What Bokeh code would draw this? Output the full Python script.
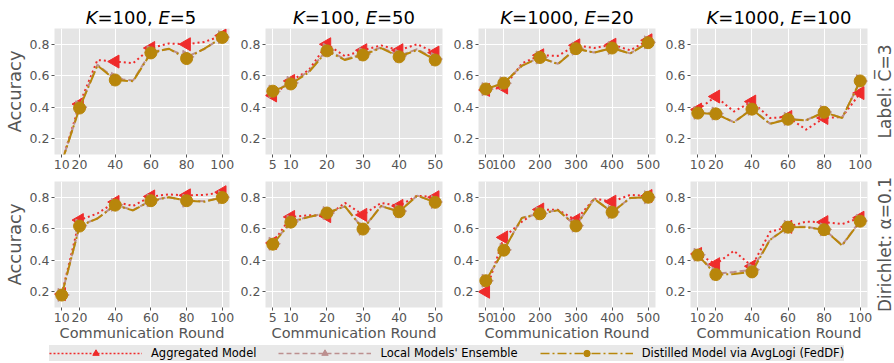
import math
from bokeh.plotting import figure
from bokeh.models import Range1d, FixedTicker, Legend, LegendItem
from bokeh.core.properties import value
from bokeh.layouts import row, column
from bokeh.embed import file_html
from bokeh.resources import INLINE

FONT = "DejaVu Sans"

# ---------------- data ----------------
rounds_k100_e5 = [10, 20, 30, 40, 50, 60, 70, 80, 90, 100]
rounds_k100_e50 = [5, 10, 15, 20, 25, 30, 35, 40, 45, 50]
rounds_k1000_e20 = [50, 100, 150, 200, 250, 300, 350, 400, 450, 500]
rounds_k1000_e100 = [10, 20, 30, 40, 50, 60, 70, 80, 90, 100]

ticks_k100_e5 = [10, 20, 40, 60, 80, 100]
ticks_k100_e50 = [5, 10, 20, 30, 40, 50]
ticks_k1000_e20 = [50, 100, 200, 300, 400, 500]
ticks_k1000_e100 = [10, 20, 40, 60, 80, 100]

y_ticks = [0.2, 0.4, 0.6, 0.8]

# Row 1: Label, C-bar = 3
agg_lab_k100_e5 = [0.05, 0.42, 0.70, 0.69, 0.68, 0.776, 0.805, 0.80, 0.815, 0.855]
ens_lab_k100_e5 = [0.05, 0.40, 0.67, 0.58, 0.57, 0.75, 0.77, 0.72, 0.77, 0.845]
dist_lab_k100_e5 = [0.05, 0.395, 0.665, 0.573, 0.565, 0.745, 0.772, 0.709, 0.772, 0.843]

agg_lab_k100_e50 = [0.475, 0.567, 0.636, 0.80, 0.724, 0.762, 0.793, 0.762, 0.80, 0.747]
ens_lab_k100_e50 = [0.50, 0.555, 0.628, 0.765, 0.705, 0.738, 0.78, 0.727, 0.768, 0.706]
dist_lab_k100_e50 = [0.502, 0.548, 0.622, 0.758, 0.70, 0.732, 0.776, 0.72, 0.764, 0.70]

agg_lab_k1000_e20 = [0.51, 0.525, 0.678, 0.73, 0.726, 0.793, 0.776, 0.797, 0.762, 0.825]
ens_lab_k1000_e20 = [0.515, 0.552, 0.665, 0.716, 0.676, 0.772, 0.748, 0.776, 0.742, 0.812]
dist_lab_k1000_e20 = [0.516, 0.553, 0.663, 0.716, 0.674, 0.772, 0.747, 0.776, 0.741, 0.81]

agg_lab_k1000_e100 = [0.385, 0.468, 0.373, 0.436, 0.332, 0.338, 0.258, 0.332, 0.338, 0.49]
ens_lab_k1000_e100 = [0.365, 0.36, 0.305, 0.39, 0.296, 0.326, 0.318, 0.37, 0.332, 0.566]
dist_lab_k1000_e100 = [0.363, 0.358, 0.305, 0.388, 0.294, 0.324, 0.317, 0.368, 0.332, 0.567]

# Row 2: Dirichlet, alpha = 0.1
agg_dir_k100_e5 = [0.185, 0.655, 0.697, 0.77, 0.745, 0.805, 0.818, 0.812, 0.815, 0.832]
ens_dir_k100_e5 = [0.18, 0.62, 0.665, 0.752, 0.718, 0.78, 0.80, 0.778, 0.774, 0.80]
dist_dir_k100_e5 = [0.179, 0.617, 0.665, 0.75, 0.716, 0.778, 0.80, 0.778, 0.772, 0.798]

agg_dir_k100_e50 = [0.51, 0.675, 0.686, 0.68, 0.764, 0.688, 0.764, 0.745, 0.81, 0.80]
ens_dir_k100_e50 = [0.505, 0.645, 0.676, 0.70, 0.742, 0.60, 0.744, 0.712, 0.81, 0.77]
dist_dir_k100_e50 = [0.502, 0.642, 0.675, 0.70, 0.742, 0.598, 0.744, 0.708, 0.81, 0.768]

agg_dir_k1000_e20 = [0.20, 0.545, 0.645, 0.722, 0.72, 0.655, 0.791, 0.772, 0.815, 0.808]
ens_dir_k1000_e20 = [0.27, 0.466, 0.669, 0.697, 0.718, 0.62, 0.79, 0.706, 0.795, 0.80]
dist_dir_k1000_e20 = [0.27, 0.464, 0.669, 0.695, 0.717, 0.618, 0.79, 0.705, 0.795, 0.80]

agg_dir_k1000_e100 = [0.44, 0.375, 0.46, 0.362, 0.58, 0.612, 0.645, 0.642, 0.63, 0.67]
ens_dir_k1000_e100 = [0.435, 0.315, 0.325, 0.34, 0.53, 0.612, 0.612, 0.596, 0.497, 0.65]
dist_dir_k1000_e100 = [0.433, 0.309, 0.312, 0.326, 0.529, 0.61, 0.61, 0.594, 0.494, 0.648]

series_names = ["Aggregated Model", "Local Models' Ensemble", "Distilled Model via AvgLogi (FedDF)"]
k_values = ["100", "100", "1000", "1000"]
e_values = ["5", "50", "20", "100"]
row_labels = ["Label: C\u0305=3", "Dirichlet: \u03b1=0.1"]

# ---------------- style / layout constants ----------------
RED = "#ef2b2b"
ROSY = "#bc8f8f"
GOLD = "#b8860b"
GRAY = "#555555"
PANEL_BG = "#e5e5e5"

W_TOTAL = 894
FRAME_W = 177
FRAME_H = 126
LEFT = [52, 30, 29, 28]
RIGHT = [6, 7, 7, 5]
STRIP_W = W_TOTAL - sum(LEFT) - sum(RIGHT) - 4 * FRAME_W
TITLE_H = 28
TOP = [0, 7]
BOTTOM = [20, 36]
LEG_H = 363 - TITLE_H - sum(TOP) - sum(BOTTOM) - 2 * FRAME_H

# DejaVu Sans advance widths (em)
CW = {"0": 0.636, "1": 0.636, "2": 0.636, "3": 0.636, "4": 0.636, "5": 0.636,
      "6": 0.636, "7": 0.636, "8": 0.636, "9": 0.636, "=": 0.838, ",": 0.318,
      " ": 0.318, "K": 0.656, "E": 0.632}


def tw(s, size):
    return sum(CW.get(c, 0.6) for c in s) * size


def blank_strip(width, height, xr, yr):
    f = figure(width=width, height=height, x_range=Range1d(*xr), y_range=Range1d(*yr),
               toolbar_location=None, output_backend="svg", min_border=0, title=None,
               x_axis_type=None, y_axis_type=None, outline_line_color=None)
    f.background_fill_color = "white"
    f.border_fill_color = "white"
    f.grid.visible = False
    return f


# ---------------- title strip ----------------
frame_centers = []
acc = 0
for c in range(4):
    frame_centers.append(acc + LEFT[c] + FRAME_W / 2)
    acc += LEFT[c] + FRAME_W + RIGHT[c]

title_strip = blank_strip(W_TOTAL, TITLE_H, (0, W_TOTAL), (0, TITLE_H))
TSIZE = 18
TITLE_BASE = 11
it_x, it_t, no_x, no_t = [], [], [], []
for c in range(4):
    pieces = [("K", True), ("=%s, " % k_values[c], False), ("E", True), ("=%s" % e_values[c], False)]
    total = sum(tw(t, TSIZE) for t, _ in pieces)
    x = frame_centers[c] - total / 2
    for t, ital in pieces:
        (it_x if ital else no_x).append(x)
        (it_t if ital else no_t).append(t.rstrip())
        x += tw(t, TSIZE)
title_strip.text(x=it_x, y=[TITLE_BASE] * len(it_x), text=it_t,
                 text_font=value(FONT), text_font_size="18px", text_font_style="italic",
                 text_color="black", text_align="left", text_baseline="alphabetic")
title_strip.text(x=no_x, y=[TITLE_BASE] * len(no_x), text=no_t,
                 text_font=value(FONT), text_font_size="18px", text_font_style="normal",
                 text_color="black", text_align="left", text_baseline="alphabetic")


def make_panel(rounds, ticks, agg, ens, dist, col, r):
    span = rounds[-1] - rounds[0]
    pad = span * 0.045
    p = figure(width=LEFT[col] + FRAME_W + RIGHT[col], height=TOP[r] + FRAME_H + BOTTOM[r],
               x_range=Range1d(rounds[0] - pad, rounds[-1] + pad),
               y_range=Range1d(0.1, 0.9), title=None,
               toolbar_location=None, output_backend="svg",
               min_border_left=LEFT[col], min_border_right=RIGHT[col],
               min_border_top=TOP[r], min_border_bottom=BOTTOM[r])
    p.background_fill_color = PANEL_BG
    p.border_fill_color = "white"
    p.outline_line_color = None
    p.xaxis.ticker = FixedTicker(ticks=ticks)
    p.yaxis.ticker = FixedTicker(ticks=y_ticks)
    p.xgrid.ticker = FixedTicker(ticks=ticks)
    p.ygrid.ticker = FixedTicker(ticks=y_ticks)
    p.grid.grid_line_color = "white"
    p.grid.grid_line_width = 1
    p.axis.axis_line_color = None
    p.axis.major_tick_line_color = GRAY
    p.axis.minor_tick_line_color = None
    p.axis.major_tick_in = 0
    p.axis.major_tick_out = 3
    p.axis.major_label_standoff = 2
    p.axis.major_label_text_font = FONT
    p.axis.major_label_text_font_size = "12.5px"
    p.axis.major_label_text_color = GRAY
    p.axis.axis_label_text_font = FONT
    p.axis.axis_label_text_font_style = "normal"
    p.axis.axis_label_text_color = GRAY
    if col == 0:
        p.yaxis.axis_label = "Accuracy"
        p.yaxis.axis_label_text_font_size = "18px"
        p.yaxis.axis_label_standoff = 2
    if r == 1:
        p.xaxis.axis_label = "Communication Round"
        p.xaxis.axis_label_text_font_size = "14.5px"
        p.xaxis.axis_label_standoff = 0

    idx = [i for i, x in enumerate(rounds) if x in ticks]
    mx = [rounds[i] for i in idx]

    p.line(rounds, agg, line_color=RED, line_width=2, line_dash="2 3")
    p.scatter(mx, [agg[i] for i in idx], marker="triangle", angle=math.pi / 2,
              size=13, fill_color=RED, line_color=RED)
    p.line(rounds, ens, line_color=ROSY, line_width=2, line_dash="7 3")
    p.scatter(mx, [ens[i] for i in idx], marker="triangle", angle=-math.pi / 2,
              size=13, fill_color=ROSY, line_color=ROSY)
    p.line(rounds, dist, line_color=GOLD, line_width=2, line_dash="13 3 2 3")
    p.scatter(mx, [dist[i] for i in idx], marker="circle", size=12,
              fill_color=GOLD, line_color=GOLD)
    return p


def row_strip(r, label):
    s = figure(width=STRIP_W, height=TOP[r] + FRAME_H + BOTTOM[r],
               x_range=Range1d(0, 1), y_range=Range1d(0, 1),
               toolbar_location=None, output_backend="svg", title=None, x_axis_type=None,
               min_border_left=0, min_border_right=0,
               min_border_top=TOP[r], min_border_bottom=BOTTOM[r],
               outline_line_color=None)
    s.background_fill_color = "white"
    s.border_fill_color = "white"
    s.grid.visible = False
    s.yaxis.ticker = FixedTicker(ticks=[])
    s.yaxis.axis_line_color = None
    s.yaxis.major_tick_out = 0
    s.yaxis.minor_tick_out = 0
    s.yaxis.major_label_standoff = 0
    s.yaxis.axis_label = label
    s.yaxis.axis_label_standoff = 0
    s.yaxis.axis_label_text_font = FONT
    s.yaxis.axis_label_text_font_size = "17px"
    s.yaxis.axis_label_text_font_style = "normal"
    s.yaxis.axis_label_text_color = GRAY
    return s


cols = [
    (rounds_k100_e5, ticks_k100_e5),
    (rounds_k100_e50, ticks_k100_e50),
    (rounds_k1000_e20, ticks_k1000_e20),
    (rounds_k1000_e100, ticks_k1000_e100),
]
row1_data = [
    (agg_lab_k100_e5, ens_lab_k100_e5, dist_lab_k100_e5),
    (agg_lab_k100_e50, ens_lab_k100_e50, dist_lab_k100_e50),
    (agg_lab_k1000_e20, ens_lab_k1000_e20, dist_lab_k1000_e20),
    (agg_lab_k1000_e100, ens_lab_k1000_e100, dist_lab_k1000_e100),
]
row2_data = [
    (agg_dir_k100_e5, ens_dir_k100_e5, dist_dir_k100_e5),
    (agg_dir_k100_e50, ens_dir_k100_e50, dist_dir_k100_e50),
    (agg_dir_k1000_e20, ens_dir_k1000_e20, dist_dir_k1000_e20),
    (agg_dir_k1000_e100, ens_dir_k1000_e100, dist_dir_k1000_e100),
]

top_figs, bot_figs = [], []
for c, (rounds, ticks) in enumerate(cols):
    a, en, d = row1_data[c]
    top_figs.append(make_panel(rounds, ticks, a, en, d, c, 0))
    a, en, d = row2_data[c]
    bot_figs.append(make_panel(rounds, ticks, a, en, d, c, 1))

top_figs.append(row_strip(0, row_labels[0]))
bot_figs.append(row_strip(1, row_labels[1]))

# ---------------- legend strip ----------------
leg = blank_strip(W_TOTAL, LEG_H, (0, 1), (0, 1))
OUT = [-5, -4]
l1 = leg.line(OUT, OUT, line_color=RED, line_width=1.5, line_dash="2 2")
s1 = leg.scatter(OUT[:1], OUT[:1], marker="triangle", angle=math.pi / 2, size=10, fill_color=RED, line_color=RED)
l2 = leg.line(OUT, OUT, line_color=ROSY, line_width=1.5, line_dash="5 3")
s2 = leg.scatter(OUT[:1], OUT[:1], marker="triangle", angle=-math.pi / 2, size=10, fill_color=ROSY, line_color=ROSY)
l3 = leg.line(OUT, OUT, line_color=GOLD, line_width=1.5, line_dash="9 3 2 3")
s3 = leg.scatter(OUT[:1], OUT[:1], marker="circle", size=10, fill_color=GOLD, line_color=GOLD)
legend = Legend(items=[LegendItem(label=series_names[0], renderers=[l1, s1]),
                       LegendItem(label=series_names[1], renderers=[l2, s2]),
                       LegendItem(label=series_names[2], renderers=[l3, s3])],
                orientation="horizontal", location=(49, LEG_H - 18), margin=0, padding=1,
                glyph_width=93, glyph_height=16, label_height=14, label_standoff=9,
                spacing=22, label_text_font=FONT, label_text_font_size="11.5px",
                label_text_color="black", background_fill_color="#e8e8e8",
                background_fill_alpha=1.0, border_line_color=None)
leg.add_layout(legend)

layout = column(title_strip, row(*top_figs), row(*bot_figs), leg)
open("out.html", "w").write(file_html(layout, INLINE))
